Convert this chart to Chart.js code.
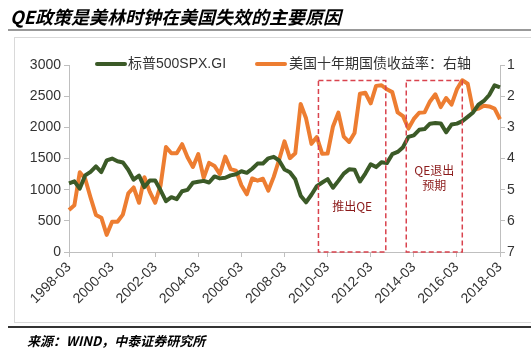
<!DOCTYPE html>
<html>
<head>
<meta charset="utf-8">
<script src="https://cdn.jsdelivr.net/npm/chart.js@4/dist/chart.umd.min.js"></script>
<style>
  html, body { margin: 0; padding: 0; background: #fff; }
  #wrap { width: 531px; height: 358px; position: relative; }
</style>
</head>
<body>
<div id="wrap"><canvas id="myChart"></canvas></div>
<script>
'use strict';

// quarter-end labels 1998-03 .. 2018-03
let categories = [];
for (let y = 1998; y <= 2018; y++) {
    for (let m of ['03', '06', '09', '12']) {
        if (y === 2018 && m !== '03') break;
        categories.push(y + '-' + m);
    }
}

// 标普500 (left axis)
let spx = [
    1102, 1134, 1017, 1229, 1286, 1373, 1283, 1469,
    1499, 1455, 1437, 1320, 1160, 1224, 1041, 1148,
    1147, 990, 815, 880, 848, 975, 996, 1112,
    1126, 1141, 1115, 1212, 1181, 1191, 1229, 1248,
    1295, 1270, 1336, 1418, 1421, 1503, 1527, 1468,
    1323, 1280, 1166, 903, 798, 919, 1057, 1115,
    1169, 1031, 1141, 1258, 1326, 1321, 1131, 1258,
    1408, 1362, 1441, 1426, 1569, 1606, 1682, 1848,
    1872, 1960, 1972, 2059, 2068, 2063, 1920, 2044,
    2060, 2099, 2168, 2239, 2363, 2423, 2519, 2674,
    2641
];

// 美国十年期国债收益率 (right axis, reversed)
let yield10 = [
    5.65, 5.50, 4.44, 4.65, 5.25, 5.81, 5.90, 6.45,
    6.03, 6.03, 5.80, 5.12, 4.93, 5.42, 4.60, 5.07,
    5.42, 4.86, 3.63, 3.83, 3.83, 3.54, 3.96, 4.27,
    3.86, 4.62, 4.14, 4.24, 4.50, 3.94, 4.34, 4.39,
    4.86, 5.15, 4.64, 4.71, 4.65, 5.03, 4.59, 4.04,
    3.45, 3.99, 3.83, 2.25, 2.71, 3.53, 3.31, 3.85,
    3.84, 2.97, 2.53, 3.30, 3.47, 3.18, 1.92, 1.89,
    2.23, 1.67, 1.65, 1.78, 1.87, 2.52, 2.64, 3.04,
    2.73, 2.53, 2.52, 2.17, 1.94, 2.35, 2.06, 2.27,
    1.78, 1.49, 1.60, 2.45, 2.40, 2.31, 2.33, 2.40,
    2.74
];

let seriesNames = ['标普500SPX.GI', '美国十年期国债收益率：右轴'];
let leftTicks = [0, 3000, 500];   // min, max, step
let rightTicks = [1, 7, 1];
let tickEvery = 8;                // one label every two years

// dashed boxes, x in category index, y in yield units
let qeBoxes = [
    { from: 46.3, to: 58.8, top: 1.5, text: ['推出QE'], at: [5.54] },
    { from: 62.6, to: 73.0, top: 1.5, text: ['QE退出', '预期'], at: [4.37, 4.87] }
];

let titleText = 'QE政策是美林时钟在美国失效的主要原因';
let sourceText = '来源：WIND，中泰证券研究所';

let green = '#3b5a27';
let orange = '#ed7d31';
let axisGray = '#bfbfbf';
let fontFam = "'Liberation Sans', Arial, 'Noto Sans CJK SC', sans-serif";
let cjkFam = "'Noto Sans CJK SC', sans-serif";

let decor = {
    id: 'decor',
    beforeDraw(chart) {
        let ctx = chart.ctx;
        ctx.save();
        ctx.fillStyle = '#fff';
        ctx.fillRect(0, 0, chart.width, chart.height);
        // frame
        ctx.strokeStyle = '#d9d9d9';
        ctx.lineWidth = 1;
        ctx.strokeRect(14.5, 37.5, 530, 285);
        // title
        ctx.fillStyle = '#000';
        ctx.font = 'italic bold 18px ' + cjkFam;
        ctx.textBaseline = 'alphabetic';
        ctx.fillText(titleText, 10, 24);
        ctx.strokeStyle = '#777';
        ctx.lineWidth = 1.5;
        ctx.beginPath();
        ctx.moveTo(8, 30);
        ctx.lineTo(531, 30);
        ctx.stroke();
        // footer
        ctx.strokeStyle = '#333';
        ctx.lineWidth = 2;
        ctx.beginPath();
        ctx.moveTo(8, 327);
        ctx.lineTo(531, 327);
        ctx.stroke();
        ctx.font = 'italic bold 13px ' + cjkFam;
        ctx.fillText(sourceText, 27, 346);
        ctx.restore();
    },
    afterDatasetsDraw(chart) {
        let ctx = chart.ctx;
        let xs = chart.scales.x;
        let yr = chart.scales.yR;
        ctx.save();
        ctx.strokeStyle = '#d9434e';
        ctx.lineWidth = 1.5;
        ctx.setLineDash([5, 3]);
        qeBoxes.forEach(b => {
            let x1 = xs.getPixelForValue(b.from);
            let x2 = xs.getPixelForValue(b.to);
            let y1 = yr.getPixelForValue(b.top);
            let y2 = yr.getPixelForValue(rightTicks[1]);
            ctx.strokeRect(x1, y1, x2 - x1, y2 - y1);
        });
        ctx.setLineDash([]);
        ctx.fillStyle = '#8b1a1a';
        ctx.font = '12px ' + cjkFam;
        ctx.textAlign = 'center';
        ctx.textBaseline = 'middle';
        qeBoxes.forEach(b => {
            let cx = (xs.getPixelForValue(b.from) + xs.getPixelForValue(b.to)) / 2;
            b.text.forEach((t, i) => {
                ctx.fillText(t, cx, yr.getPixelForValue(b.at[i]));
            });
        });
        ctx.restore();
    },
    afterDraw(chart) {
        // legend
        let ctx = chart.ctx;
        let items = [[97, 125, 128, green], [257, 285, 289, orange]];
        ctx.save();
        ctx.font = '14px ' + fontFam;
        ctx.textBaseline = 'middle';
        ctx.fillStyle = '#333';
        items.forEach((it, i) => {
            ctx.strokeStyle = it[3];
            ctx.lineWidth = 4;
            ctx.lineCap = 'round';
            ctx.beginPath();
            ctx.moveTo(it[0], 64);
            ctx.lineTo(it[1], 64);
            ctx.stroke();
            ctx.fillText(seriesNames[i], it[2], 64);
        });
        ctx.restore();
    }
};

let ctx = document.getElementById('myChart').getContext('2d');
let myChart = new Chart(ctx, {
    type: 'line',
    data: {
        labels: categories,
        datasets: [{
            label: seriesNames[0],
            data: spx,
            yAxisID: 'yL',
            borderColor: green,
            borderWidth: 4,
            pointRadius: 0,
            borderJoinStyle: 'round',
            tension: 0
        }, {
            label: seriesNames[1],
            data: yield10,
            yAxisID: 'yR',
            borderColor: orange,
            borderWidth: 4,
            pointRadius: 0,
            borderJoinStyle: 'round',
            tension: 0
        }]
    },
    options: {
        responsive: true,
        maintainAspectRatio: false,
        animation: false,
        events: [],
        layout: { padding: { top: 65, bottom: 46, left: 0, right: 0 } },
        plugins: {
            legend: { display: false },
            tooltip: { enabled: false }
        },
        scales: {
            x: {
                offset: false,
                grid: { drawOnChartArea: false, color: axisGray, tickLength: 5 },
                border: { color: axisGray },
                ticks: {
                    autoSkip: false,
                    maxRotation: 45,
                    minRotation: 45,
                    padding: 2,
                    color: '#333',
                    font: { family: fontFam, size: 14 }
                },
                afterBuildTicks(s) {
                    s.ticks = s.ticks.filter(t => t.value % tickEvery === 0);
                },
                afterFit(s) { s.height = 60; }
            },
            yL: {
                position: 'left',
                min: leftTicks[0],
                max: leftTicks[1],
                grid: { drawOnChartArea: false, color: axisGray, tickLength: 5 },
                border: { color: axisGray },
                ticks: {
                    stepSize: leftTicks[2],
                    padding: 3,
                    color: '#333',
                    font: { family: fontFam, size: 14 },
                    callback: v => String(v)
                },
                afterFit(s) { s.width = 69; }
            },
            yR: {
                position: 'right',
                reverse: true,
                min: rightTicks[0],
                max: rightTicks[1],
                grid: { drawOnChartArea: false, color: axisGray, tickLength: 5 },
                border: { color: axisGray },
                ticks: {
                    stepSize: rightTicks[2],
                    padding: 2,
                    color: '#333',
                    font: { family: fontFam, size: 14 },
                    callback: v => String(v)
                },
                afterFit(s) { s.width = 31; }
            }
        }
    },
    plugins: [decor]
});
</script>
</body>
</html>
